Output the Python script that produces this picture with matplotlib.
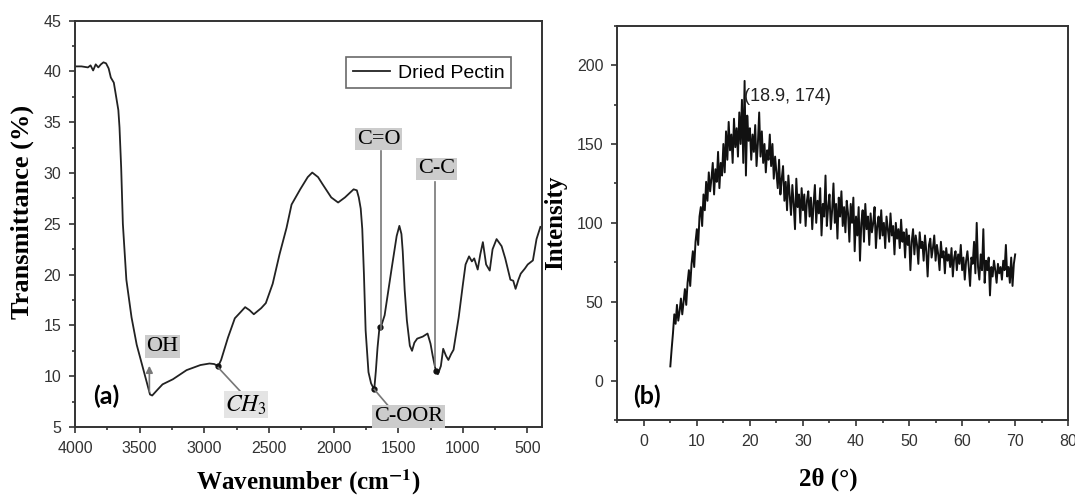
import matplotlib.pyplot as plt
import numpy as np
from matplotlib.ticker import MultipleLocator

plt.rcParams['mathtext.fontset'] = 'stix'

# FTIR spectrum of dried pectin
wavenumber = [4000, 3950, 3900, 3880, 3860, 3840, 3820, 3800, 3780, 3760,
              3740, 3723, 3700, 3683, 3665, 3656, 3643, 3630, 3603, 3563,
              3523, 3483, 3443, 3420, 3403, 3360, 3323, 3243, 3137, 3030,
              2960, 2924, 2892, 2870, 2817, 2764, 2720, 2684, 2650, 2617,
              2560, 2524, 2471, 2418, 2364, 2325, 2258, 2200, 2165, 2120,
              2085, 2018, 1965, 1912, 1845, 1820, 1805, 1790, 1778, 1765,
              1752, 1730, 1710, 1698, 1685, 1673, 1660, 1645, 1630, 1605,
              1552, 1512, 1491, 1475, 1465, 1450, 1433, 1410, 1393, 1375,
              1353, 1310, 1273, 1250, 1233, 1210, 1193, 1170, 1152, 1130,
              1112, 1090, 1072, 1032, 1000, 979, 952, 930, 912, 885,
              865, 845, 820, 792, 770, 739, 700, 672, 632, 610,
              592, 570, 552, 520, 498, 458, 430, 400]
transmittance = [40.5, 40.5, 40.4, 40.6, 40.1, 40.7, 40.4, 40.7, 40.9, 40.8,
                 40.3, 39.4, 38.9, 37.6, 36.2, 34.5, 30.5, 25.0, 19.5, 15.8,
                 13.1, 11.2, 9.3, 8.2, 8.1, 8.7, 9.2, 9.7, 10.6, 11.1,
                 11.25, 11.2, 11.0, 11.6, 13.8, 15.7, 16.3, 16.8, 16.5, 16.1,
                 16.7, 17.2, 19.1, 22.0, 24.6, 26.9, 28.4, 29.6, 30.05, 29.6,
                 28.9, 27.6, 27.1, 27.6, 28.4, 28.3, 27.6, 26.5, 24.5, 20.0,
                 14.5, 10.4, 9.3, 9.0, 8.75, 10.5, 12.8, 14.8, 15.0, 16.0,
                 20.5, 23.8, 24.8, 24.0, 22.3, 18.5, 15.5, 13.0, 12.5, 13.3,
                 13.7, 13.9, 14.2, 13.2, 12.0, 10.6, 10.2, 11.0, 12.7, 12.0,
                 11.6, 12.2, 12.6, 15.8, 19.0, 21.0, 21.8, 21.3, 21.6, 20.5,
                 22.0, 23.2, 21.0, 20.4, 22.5, 23.5, 22.8, 21.6, 19.5, 19.4,
                 18.6, 19.5, 20.1, 20.6, 21.0, 21.4, 23.5, 24.7]

# XRD pattern, 5-70 deg in 0.25 deg steps
intensity = [9, 20, 30, 42, 36, 48, 38, 44, 52, 42,
             50, 58, 48, 62, 70, 60, 74, 82, 72, 88,
             96, 86, 104, 110, 98, 118, 108, 126, 114, 132,
             120, 128, 138, 118, 134, 126, 145, 122, 138, 130,
             150, 132, 158, 140, 164, 146, 156, 138, 166, 148,
             160, 142, 170, 150, 178, 138, 190, 130, 168, 152,
             160, 140, 156, 145, 162, 136, 150, 170, 142, 158,
             138, 150, 132, 146, 140, 156, 136, 150, 128, 142,
             132, 122, 140, 118, 128, 136, 114, 126, 108, 130,
             118, 105, 124, 112, 96, 128, 110, 118, 100, 122,
             108, 118, 98, 114, 120, 104, 116, 96, 112, 124,
             100, 114, 106, 122, 92, 112, 104, 130, 98, 110,
             118, 96, 108, 125, 100, 112, 90, 116, 104, 120,
             98, 110, 94, 114, 106, 88, 112, 100, 116, 82,
             104, 92, 110, 76, 100, 108, 88, 112, 96, 104,
             86, 106, 94, 100, 110, 84, 98, 104, 90, 108,
             92, 100, 84, 104, 96, 88, 106, 92, 98, 80,
             100, 90, 96, 84, 102, 88, 94, 78, 96, 86,
             92, 70, 88, 96, 80, 92, 86, 74, 94, 84,
             88, 76, 92, 82, 66, 86, 90, 78, 84, 92,
             76, 86, 80, 70, 88, 78, 82, 68, 84, 76,
             80, 72, 84, 66, 78, 82, 70, 80, 74, 86,
             70, 78, 64, 76, 82, 72, 60, 78, 74, 88,
             68, 100, 72, 64, 80, 70, 96, 62, 76, 70,
             78, 54, 72, 66, 76, 70, 62, 74, 68, 72,
             64, 76, 70, 86, 66, 72, 62, 78, 60, 74,
             80]
two_theta = np.linspace(5, 70, len(intensity))

spine_col = '#333333'
serif = 'Liberation Serif'
sans = 'Liberation Sans'


def style_axes(ax):
    for s in ax.spines.values():
        s.set_linewidth(1.4)
        s.set_color(spine_col)
    ax.tick_params(which='both', direction='out', top=False, right=False,
                   color=spine_col, width=1.2)
    ax.tick_params(which='major', length=4, labelsize=11.5, pad=6,
                   labelcolor='#333333')
    ax.tick_params(which='minor', length=2.5)
    for lab in ax.get_xticklabels() + ax.get_yticklabels():
        lab.set_fontfamily(sans)


fig = plt.figure(figsize=(10.75, 4.96), dpi=100)

# ---- (a) FTIR ----
ax1 = fig.add_axes([0.0698, 0.1391, 0.4341, 0.8192])
ax1.plot(wavenumber, transmittance, color='#222222', lw=1.3, label='Dried Pectin')
ax1.set_xlim(4000, 390)
ax1.set_ylim(5, 45)
ax1.xaxis.set_major_locator(MultipleLocator(500))
ax1.xaxis.set_minor_locator(MultipleLocator(250))
ax1.yaxis.set_major_locator(MultipleLocator(5))
ax1.yaxis.set_minor_locator(MultipleLocator(2.5))
style_axes(ax1)
ax1.set_xlabel('Wavenumber (cm$^{\\mathbf{-1}}$)', fontfamily=serif,
               fontweight='bold', fontsize=18, labelpad=8)
ax1.set_ylabel('Transmittance (%)', fontfamily=serif, fontweight='bold',
               fontsize=19)
ax1.yaxis.set_label_coords(-0.087, 0.53)

leg = ax1.legend(loc='upper right', bbox_to_anchor=(0.935, 0.91),
                 borderaxespad=0, fancybox=False, edgecolor='#444444',
                 handlelength=1.9, handletextpad=0.4, borderpad=0.35,
                 prop={'family': sans, 'size': 14})
leg.get_frame().set_linewidth(1.2)

gray_box = dict(boxstyle='square,pad=0.08', fc='#cccccc', ec='none')
ann_col = '#777777'

# marked points on the curve
ax1.plot([2892, 1685, 1640, 1210], [11.0, 8.75, 14.8, 10.5], 'o',
         color='#111111', ms=3.5)

ax1.annotate('', xy=(3425, 11.3), xytext=(3425, 8.2),
             arrowprops=dict(arrowstyle='-|>', color=ann_col, lw=1.2,
                             mutation_scale=10))
ax1.text(3323, 12.95, 'OH', fontfamily=serif, fontsize=16, ha='center',
         va='center', bbox=gray_box)
ax1.plot([2892, 2724], [10.85, 8.55], color=ann_col, lw=1.2)
ax1.text(2679, 7.2, '$CH_3$', fontsize=17, ha='center', va='center',
         bbox=dict(boxstyle='square,pad=0.05', fc='#e4e4e4', ec='none'))
ax1.plot([1685, 1578], [8.7, 7.1], color=ann_col, lw=1.2)
ax1.text(1421, 6.05, 'C-OOR', fontfamily=serif, fontsize=16, ha='center',
         va='center', bbox=gray_box)
ax1.plot([1632, 1632], [32.2, 14.6], color=ann_col, lw=1.2)
ax1.text(1653, 33.34, 'C=O', fontfamily=serif, fontsize=16, ha='center',
         va='center', bbox=gray_box)
ax1.plot([1214, 1214], [29.1, 11.0], color=ann_col, lw=1.2)
ax1.text(1206, 30.4, 'C-C', fontfamily=serif, fontsize=16, ha='center',
         va='center', bbox=gray_box)
ax1.text(3755, 8.0, '(a)', fontfamily='Lato', fontweight='bold', fontsize=18,
         ha='center', va='center')

# ---- (b) XRD ----
ax2 = fig.add_axes([0.5742, 0.1532, 0.4195, 0.7950])
ax2.plot(two_theta, intensity, color='#111111', lw=1.4)
ax2.set_xlim(-5, 80)
ax2.set_ylim(-25, 225)
ax2.xaxis.set_major_locator(MultipleLocator(10))
ax2.xaxis.set_minor_locator(MultipleLocator(5))
ax2.yaxis.set_major_locator(MultipleLocator(50))
ax2.yaxis.set_minor_locator(MultipleLocator(25))
ax2.set_yticks([0, 50, 100, 150, 200])
style_axes(ax2)
ax2.set_xlabel('2\u03b8 (\u00b0)', fontfamily=serif, fontweight='bold',
               fontsize=18)
ax2.xaxis.set_label_coords(0.468, -0.12)
ax2.set_ylabel('Intensity', fontfamily=serif, fontweight='bold',
               fontsize=18, labelpad=7)
ax2.text(18.9, 180, '(18.9, 174)', fontfamily=sans, fontsize=13,
         ha='left', va='center', color='#222222')
ax2.text(0.65, -10, '(b)', fontfamily='Lato', fontweight='bold', fontsize=18,
         ha='center', va='center')

fig.savefig('out.png', dpi=100)
